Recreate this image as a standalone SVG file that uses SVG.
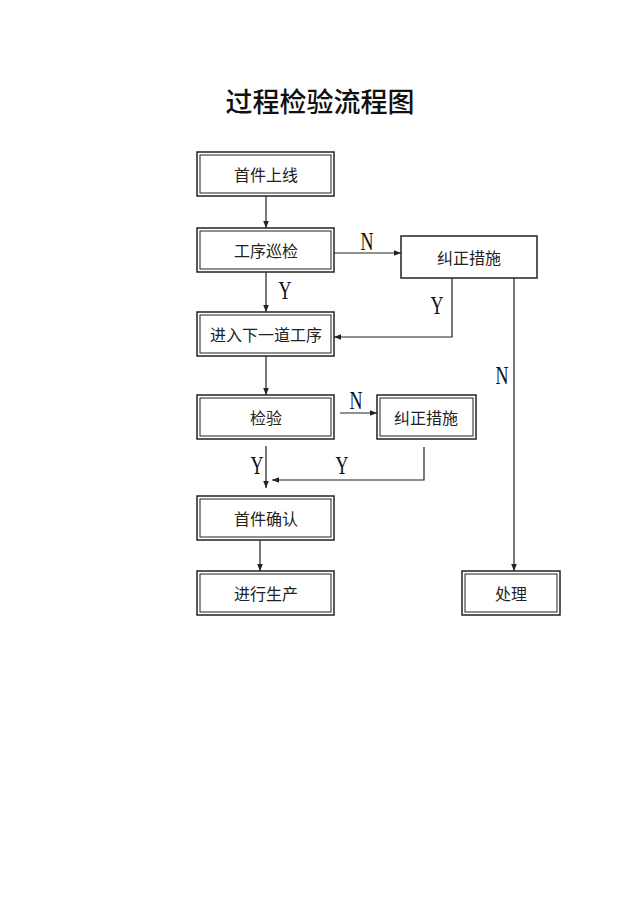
<svg xmlns="http://www.w3.org/2000/svg" width="640" height="906" viewBox="0 0 640 906">
<style>
.o{fill:#fff;stroke:#222;stroke-width:1.5}
.i{fill:none;stroke:#222;stroke-width:1}
.t{font-family:"Noto Sans CJK SC",sans-serif;font-size:16px;fill:#222;text-anchor:middle;dominant-baseline:central}
.l{font-family:"Liberation Serif",serif;font-size:25px;fill:#111;text-anchor:middle}
.c{stroke:#222;stroke-width:1.2;fill:none}
</style>
<defs><marker id="a" viewBox="0 0 10 10" refX="10" refY="5" markerWidth="7" markerHeight="7" orient="auto" markerUnits="userSpaceOnUse"><path d="M0,1L10,5L0,9z" fill="#222"/></marker></defs>
<rect width="640" height="906" fill="#fff"/>
<text x="320" y="112" font-family="Noto Sans CJK SC,sans-serif" font-size="27" font-weight="500" text-anchor="middle" fill="#111">过程检验流程图</text>
<g id="n1"><rect class="o" x="197" y="152" width="137" height="44"/><rect class="i" x="200" y="155" width="131" height="38"/><text class="t" x="266" y="174">首件上线</text></g>
<g id="n2"><rect class="o" x="197" y="228" width="137" height="44"/><rect class="i" x="200" y="231" width="131" height="38"/><text class="t" x="266" y="250">工序巡检</text></g>
<g id="n3"><rect class="o" x="401" y="236" width="136" height="42"/><text class="t" x="469" y="257">纠正措施</text></g>
<g id="n4"><rect class="o" x="197" y="312" width="137" height="44"/><rect class="i" x="200" y="315" width="131" height="38"/><text class="t" x="266" y="334">进入下一道工序</text></g>
<g id="n5"><rect class="o" x="197" y="395" width="137" height="44"/><rect class="i" x="200" y="398" width="131" height="38"/><text class="t" x="266" y="417">检验</text></g>
<g id="n6"><rect class="o" x="377" y="395" width="99" height="44"/><rect class="i" x="380" y="398" width="93" height="38"/><text class="t" x="426" y="417">纠正措施</text></g>
<g id="n7"><rect class="o" x="197" y="496" width="137" height="44"/><rect class="i" x="200" y="499" width="131" height="38"/><text class="t" x="266" y="518">首件确认</text></g>
<g id="n8"><rect class="o" x="197" y="571" width="137" height="44"/><rect class="i" x="200" y="574" width="131" height="38"/><text class="t" x="266" y="593">进行生产</text></g>
<g id="n9"><rect class="o" x="462" y="571" width="98" height="44"/><rect class="i" x="465" y="574" width="92" height="38"/><text class="t" x="511" y="593">处理</text></g>
<g id="connectors">
<path class="c" d="M266,196V228" marker-end="url(#a)"/>
<path class="c" d="M334,253H401" marker-end="url(#a)"/>
<path class="c" d="M266,272V312" marker-end="url(#a)"/>
<path class="c" d="M452,278V337H334" marker-end="url(#a)"/>
<path class="c" d="M514,278V571" marker-end="url(#a)"/>
<path class="c" d="M266,356V395" marker-end="url(#a)"/>
<path class="c" d="M340,413H377" marker-end="url(#a)"/>
<path class="c" d="M266,446V488" marker-end="url(#a)"/>
<path class="c" d="M424,447V480H272" marker-end="url(#a)"/>
<path class="c" d="M260,540V571" marker-end="url(#a)"/>
</g>
<g id="labels">
<text class="l" transform="translate(367,250) scale(0.72,1)">N</text>
<text class="l" transform="translate(285,299) scale(0.72,1)">Y</text>
<text class="l" transform="translate(437,314) scale(0.72,1)">Y</text>
<text class="l" transform="translate(502,384) scale(0.72,1)">N</text>
<text class="l" transform="translate(356,409) scale(0.72,1)">N</text>
<text class="l" transform="translate(257,474) scale(0.72,1)">Y</text>
<text class="l" transform="translate(342,474) scale(0.72,1)">Y</text>
</g>
</svg>
